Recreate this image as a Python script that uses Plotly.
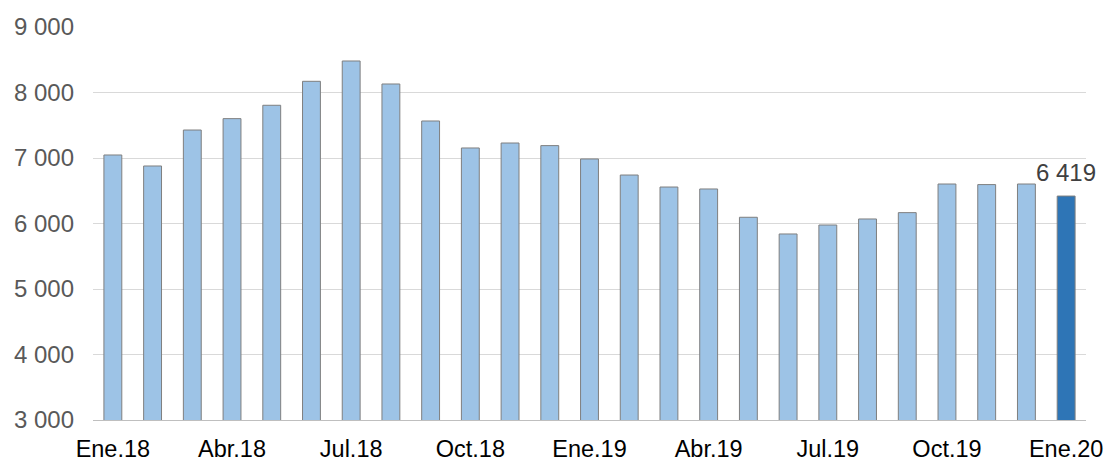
import plotly.graph_objects as go

months = ["Ene.18", "Feb.18", "Mar.18", "Abr.18", "May.18", "Jun.18", "Jul.18", "Ago.18",
          "Set.18", "Oct.18", "Nov.18", "Dic.18", "Ene.19", "Feb.19", "Mar.19", "Abr.19",
          "May.19", "Jun.19", "Jul.19", "Ago.19", "Set.19", "Oct.19", "Nov.19", "Dic.19", "Ene.20"]
values = [7046, 6878, 7427, 7601, 7805, 8171, 8481, 8130,
          7565, 7153, 7229, 7189, 6985, 6740, 6557, 6527,
          6095, 5840, 5977, 6069, 6166, 6603, 6594, 6603, 6419]
tick_labels = ["Ene.18", "Abr.18", "Jul.18", "Oct.18", "Ene.19", "Abr.19", "Jul.19", "Oct.19", "Ene.20"]
y_ticks = [3000, 4000, 5000, 6000, 7000, 8000, 9000]
last_label = "6 419"

light = "#9DC3E6"
dark = "#2E75B6"
colors = [light] * (len(values) - 1) + [dark]

fig = go.Figure()
fig.add_trace(go.Bar(
    x=months, y=values,
    marker=dict(color=colors, line=dict(color="#7F7F7F", width=1)),
    width=0.45, cliponaxis=False, hoverinfo="skip",
))
fig.add_annotation(
    x=months[-1], y=values[-1], xref="x", yref="y",
    text=last_label, showarrow=False, yanchor="bottom", yshift=8,
    font=dict(family="Liberation Sans, Arial", size=24, color="#404040"),
)

fig.update_layout(
    width=1108, height=461,
    margin=dict(l=93, r=22, t=27, b=41, autoexpand=False),
    paper_bgcolor="white", plot_bgcolor="white",
    showlegend=False,
    font=dict(family="Liberation Sans, Arial", size=23),
)
fig.update_xaxes(
    type="category", automargin=False,
    range=[-0.5, len(months) - 0.5],
    tickmode="array", tickvals=tick_labels, ticktext=tick_labels,
    tickfont=dict(color="#000000", size=23.5),
    showgrid=False, showline=True, linecolor="#BFBFBF", linewidth=1,
    ticks="", ticklabelstandoff=8,
)
fig.update_yaxes(
    range=[3000, 9000], automargin=False,
    tickvals=y_ticks, ticktext=[f"{v // 1000} 000" for v in y_ticks],
    tickfont=dict(color="#595959", size=24),
    showgrid=True, gridcolor="#D9D9D9", gridwidth=1,
    zeroline=False, showline=False, ticks="",
    ticklabelstandoff=18,
)

fig.write_html(
    "out.html",
    config={"displayModeBar": False},
    post_script="document.body.style.margin='0';document.body.style.overflow='hidden';",
)
